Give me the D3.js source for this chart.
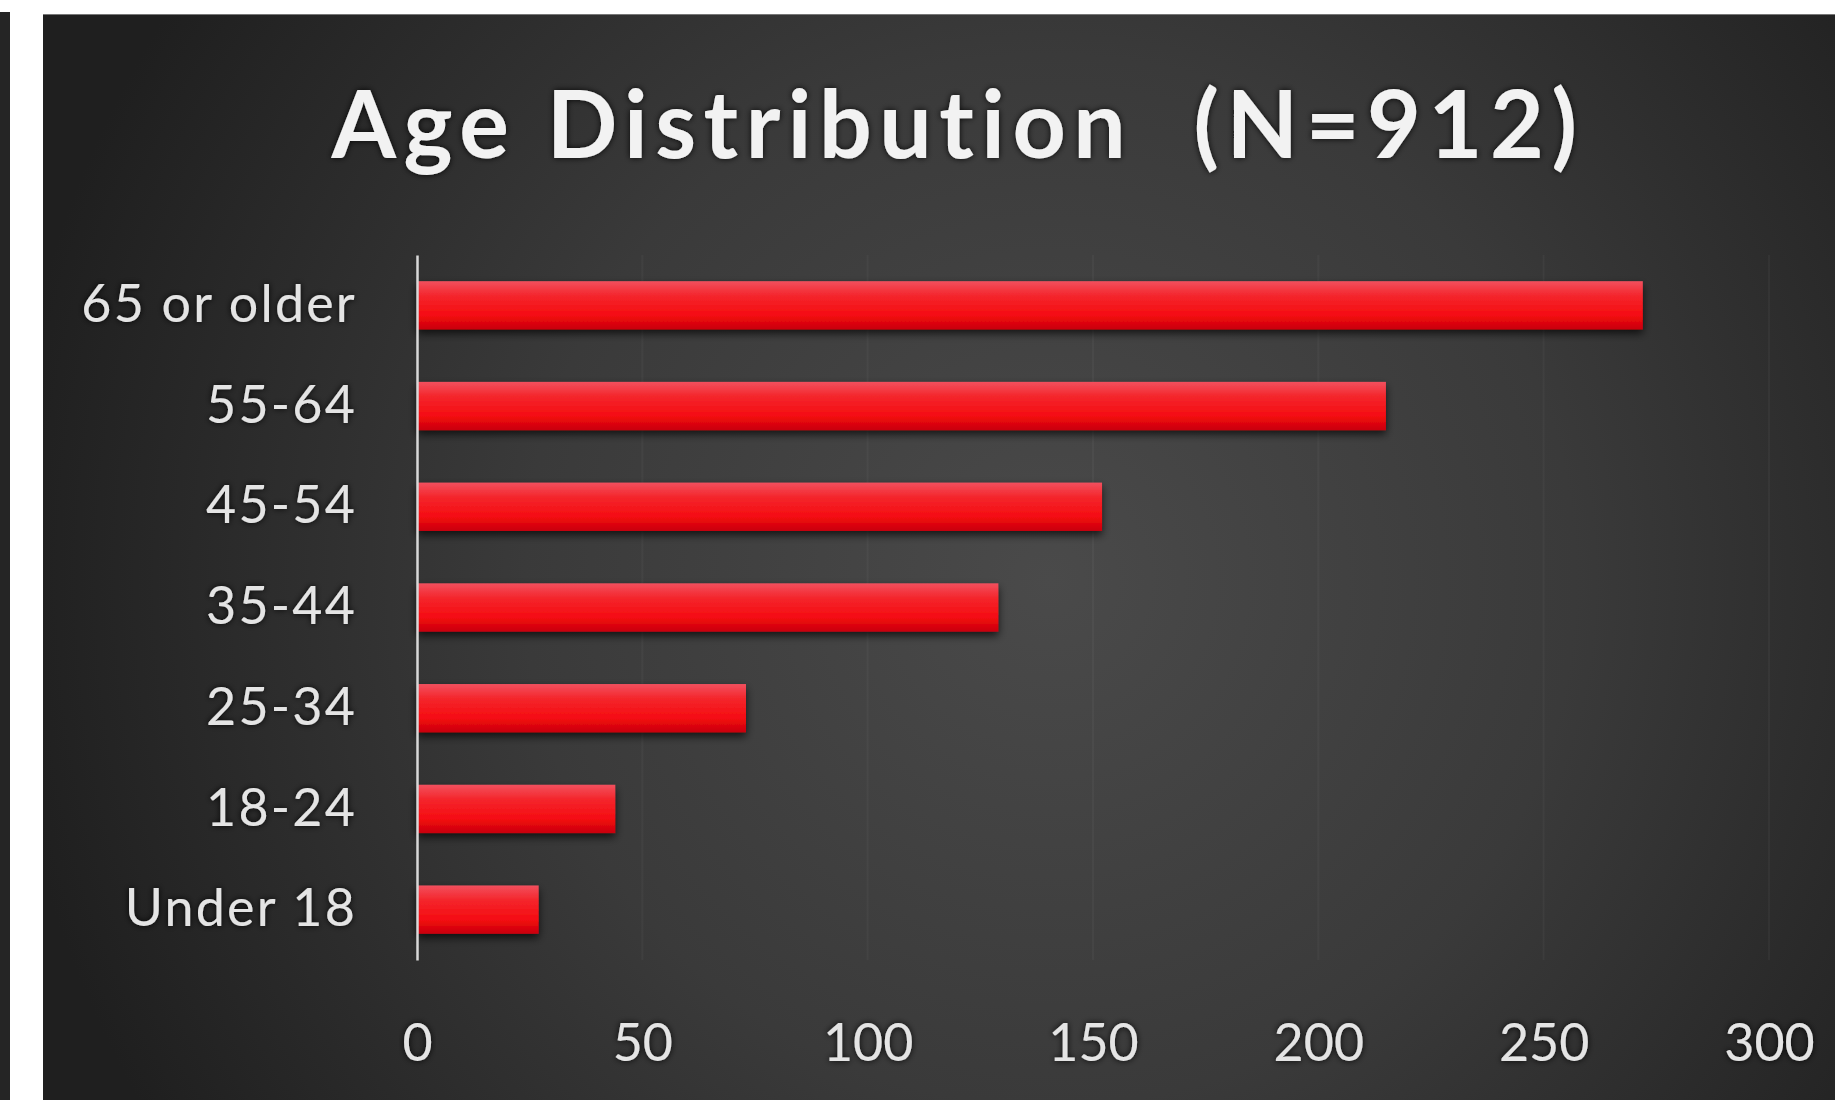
<!DOCTYPE html>
<html>
<head>
<meta charset="utf-8">
<script src="https://cdn.jsdelivr.net/npm/d3@7"></script>
<style>
  body { margin: 0; background: #fff; }
  svg { display: block; }
  text { font-variant-ligatures: none; }
</style>
</head>
<body>
<svg id="chart"></svg>
<script>
const categories = ["65 or older", "55-64", "45-54", "35-44", "25-34", "18-24", "Under 18"];
const counts = [272, 215, 152, 129, 73, 44, 27];
const xTicks = [0, 50, 100, 150, 200, 250, 300];
const title = "Age Distribution  (N=912)";

const data = categories.map((c, i) => ({ age: c, n: counts[i] }));

const W = 1835, H = 1100;
const plot = { left: 417, right: 1769, top: 255, bottom: 960 };

const svg = d3.select("#chart")
    .attr("width", W)
    .attr("height", H);

const defs = svg.append("defs");

// panel background, lighter in the middle
const bg = defs.append("radialGradient")
    .attr("id", "bg")
    .attr("gradientUnits", "userSpaceOnUse")
    .attr("cx", 1050).attr("cy", 580).attr("r", 1050);
bg.append("stop").attr("offset", "0%").attr("stop-color", "#4a4a4a");
bg.append("stop").attr("offset", "50%").attr("stop-color", "#3a3a3a");
bg.append("stop").attr("offset", "100%").attr("stop-color", "#1f1f1f");

// glossy red bars
const barGrad = defs.append("linearGradient")
    .attr("id", "bar")
    .attr("x1", 0).attr("y1", 0).attr("x2", 0).attr("y2", 1);
barGrad.append("stop").attr("offset", "0%").attr("stop-color", "#f2505e");
barGrad.append("stop").attr("offset", "30%").attr("stop-color", "#f4262c");
barGrad.append("stop").attr("offset", "70%").attr("stop-color", "#f50c12");
barGrad.append("stop").attr("offset", "100%").attr("stop-color", "#c8000c");

const shadow = defs.append("filter").attr("id", "shadow")
    .attr("x", "-10%").attr("y", "-30%").attr("width", "120%").attr("height", "180%");
shadow.append("feDropShadow")
    .attr("dx", 0).attr("dy", 4).attr("stdDeviation", 4)
    .attr("flood-color", "#000").attr("flood-opacity", 0.7);

const glow = defs.append("filter").attr("id", "glow")
    .attr("x", "-10%").attr("y", "-30%").attr("width", "120%").attr("height", "160%");
glow.append("feDropShadow")
    .attr("dx", 0).attr("dy", 0).attr("stdDeviation", 3)
    .attr("flood-color", "#000").attr("flood-opacity", 0.9);

// white frame + dark strip on the far left
svg.append("rect").attr("width", W).attr("height", H).attr("fill", "#fff");
svg.append("rect").attr("x", 0).attr("y", 12).attr("width", 10).attr("height", H).attr("fill", "#252525");
svg.append("rect").attr("x", 43).attr("y", 14).attr("width", W - 43).attr("height", H - 14)
    .attr("fill", "url(#bg)");
svg.append("line")
    .attr("x1", 43).attr("x2", W).attr("y1", 14.5).attr("y2", 14.5)
    .attr("stroke", "#777").attr("stroke-width", 1);

const x = d3.scaleLinear()
    .domain([0, 300])
    .range([plot.left, plot.right]);

const y = d3.scaleBand()
    .domain(categories)
    .range([plot.top, plot.bottom])
    .paddingInner(0.52)
    .paddingOuter(0.26);

// faint gridlines
svg.append("g")
    .selectAll("line")
    .data(xTicks.slice(1))
    .join("line")
    .attr("x1", d => x(d)).attr("x2", d => x(d))
    .attr("y1", plot.top).attr("y2", plot.bottom)
    .attr("stroke", "#fff")
    .attr("stroke-opacity", 0.035)
    .attr("stroke-width", 2);

// bars
svg.append("g")
    .selectAll("rect")
    .data(data)
    .join("rect")
    .attr("x", x(0))
    .attr("y", d => y(d.age))
    .attr("width", d => x(d.n) - x(0))
    .attr("height", y.bandwidth())
    .attr("fill", "url(#bar)")
    .attr("filter", "url(#shadow)");

const labelFont = "Lato, 'Open Sans', sans-serif";

// category axis
const yAxis = svg.append("g")
    .attr("transform", `translate(${plot.left},0)`)
    .call(d3.axisLeft(y).tickSize(0).tickSizeOuter(0).tickPadding(60));
yAxis.select(".domain")
    .attr("stroke", "#d8d8d8")
    .attr("stroke-width", 2.5);
yAxis.selectAll("text")
    .attr("fill", "#e4e4e4")
    .attr("font-family", labelFont)
    .attr("font-size", 52)
    .attr("letter-spacing", 2.2)
    .attr("filter", "url(#glow)");

// value axis
const xAxis = svg.append("g")
    .attr("transform", "translate(0,1021)")
    .call(d3.axisBottom(x).tickValues(xTicks).tickSize(0).tickPadding(3));
xAxis.select(".domain").remove();
xAxis.selectAll("text")
    .attr("fill", "#e4e4e4")
    .attr("font-family", labelFont)
    .attr("font-size", 52)
    .attr("filter", "url(#glow)");

// title
svg.append("text")
    .attr("x", 958)
    .attr("y", 158)
    .attr("text-anchor", "middle")
    .attr("font-family", labelFont)
    .attr("font-weight", "bold")
    .attr("font-size", 93)
    .attr("letter-spacing", 7.5)
    .attr("fill", "#f2f2f2")
    .attr("filter", "url(#glow)")
    .style("white-space", "pre")
    .text(title);
</script>
</body>
</html>
